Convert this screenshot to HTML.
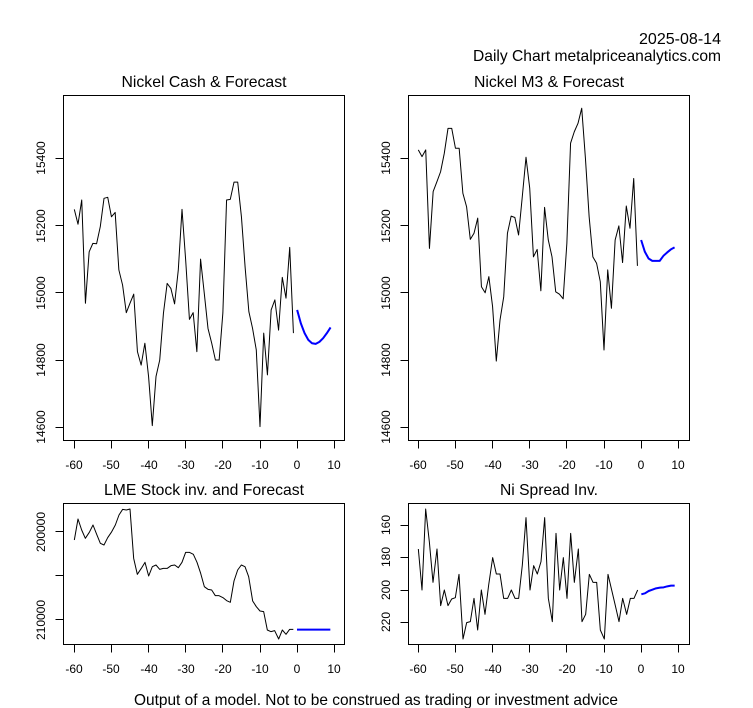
<!DOCTYPE html>
<html><head><meta charset="utf-8"><style>
html,body{margin:0;padding:0;background:#fff;}
svg{display:block;font-family:"Liberation Sans",Arial,sans-serif;}
.t{font-size:16px;fill:#000;}
.k{font-size:12px;fill:#000;}
.ln{fill:none;stroke:#000;stroke-width:1;vector-effect:non-scaling-stroke;stroke-linejoin:round;}
.bl{fill:none;stroke:#0000ff;stroke-width:2;vector-effect:non-scaling-stroke;stroke-linejoin:round;}
.ax{stroke:#000;stroke-width:1;fill:none;shape-rendering:crispEdges;}
</style></head><body>
<svg width="753" height="708" viewBox="0 0 753 708" xmlns="http://www.w3.org/2000/svg">
<rect width="753" height="708" fill="#fff"/>
<text class="t" x="721" y="44" text-anchor="end" textLength="82" lengthAdjust="spacingAndGlyphs">2025-08-14</text>
<text class="t" x="721" y="61" text-anchor="end" textLength="248" lengthAdjust="spacingAndGlyphs">Daily Chart metalpriceanalytics.com</text>
<text class="t" x="376" y="705" text-anchor="middle" textLength="484" lengthAdjust="spacingAndGlyphs">Output of a model. Not to be construed as trading or investment advice</text>

<!-- Top-left -->
<text class="t" x="204" y="87" text-anchor="middle" textLength="165" lengthAdjust="spacingAndGlyphs">Nickel Cash &amp; Forecast</text>
<rect class="ax" x="63.5" y="95.5" width="281" height="345"/>
<path class="ax" d="M74.5 440.5V448.5M111.5 440.5V448.5M148.5 440.5V448.5M185.5 440.5V448.5M222.5 440.5V448.5M260.5 440.5V448.5M297.5 440.5V448.5M334.5 440.5V448.5M74.5 440.5H334.5"/>
<g class="k" text-anchor="middle">
<text x="74" y="469">-60</text><text x="111" y="469">-50</text><text x="149" y="469">-40</text><text x="186" y="469">-30</text><text x="223" y="469">-20</text><text x="260" y="469">-10</text><text x="297" y="469">0</text><text x="334" y="469">10</text>
</g>
<path class="ax" d="M63.5 158.5H55.5M63.5 225.5H55.5M63.5 292.5H55.5M63.5 360.5H55.5M63.5 427.5H55.5M63.5 158.5V427.5"/>
<g class="k" text-anchor="middle">
<text transform="translate(45,158) rotate(-90)">15400</text>
<text transform="translate(45,226) rotate(-90)">15200</text>
<text transform="translate(45,293) rotate(-90)">15000</text>
<text transform="translate(45,360) rotate(-90)">14800</text>
<text transform="translate(45,427) rotate(-90)">14600</text>
</g>
<g transform="matrix(3.714,0,0,-0.33625,297.14,5336.55)">
<polyline class="ln" points="-60,15248 -59,15204 -58,15276 -57,14969 -56,15122 -55,15147 -54,15146 -53,15197 -52,15281 -51,15284 -50,15226 -49,15239 -48,15068 -47,15023 -46,14941 -45,14969 -44,14996 -43,14825 -42,14785 -41,14850 -40,14751 -39,14605 -38,14751 -37,14800 -36,14939 -35,15028 -34,15013 -33,14967 -32,15068 -31,15248 -30,15095 -29,14921 -28,14941 -27,14825 -26,15100 -25,14998 -24,14894 -23,14850 -22,14800 -21,14800 -20,14940 -19,15276 -18,15278 -17,15329 -16,15329 -15,15226 -14,15075 -13,14944 -12,14894 -11,14830 -10,14602 -9,14880 -8,14756 -7,14949 -6,14979 -5,14889 -4,15046 -3,14984 -2,15135 -1,14880"/>
<polyline class="bl" points="0,14949 1,14909 2,14880 3,14860 4,14850 5,14848 6,14854 7,14865 8,14880 9,14897"/>
</g>

<!-- Top-right -->
<text class="t" x="549" y="87" text-anchor="middle" textLength="150" lengthAdjust="spacingAndGlyphs">Nickel M3 &amp; Forecast</text>
<rect class="ax" x="408.5" y="95.5" width="281" height="345"/>
<path class="ax" d="M418.5 440.5V448.5M455.5 440.5V448.5M492.5 440.5V448.5M529.5 440.5V448.5M566.5 440.5V448.5M604.5 440.5V448.5M641.5 440.5V448.5M678.5 440.5V448.5M418.5 440.5H678.5"/>
<g class="k" text-anchor="middle">
<text x="418" y="469">-60</text><text x="455" y="469">-50</text><text x="493" y="469">-40</text><text x="530" y="469">-30</text><text x="567" y="469">-20</text><text x="604" y="469">-10</text><text x="641" y="469">0</text><text x="678" y="469">10</text>
</g>
<path class="ax" d="M408.5 158.5H400.5M408.5 225.5H400.5M408.5 292.5H400.5M408.5 360.5H400.5M408.5 427.5H400.5M408.5 158.5V427.5"/>
<g class="k" text-anchor="middle">
<text transform="translate(390,158) rotate(-90)">15400</text>
<text transform="translate(390,226) rotate(-90)">15200</text>
<text transform="translate(390,293) rotate(-90)">15000</text>
<text transform="translate(390,360) rotate(-90)">14800</text>
<text transform="translate(390,427) rotate(-90)">14600</text>
</g>
<g transform="matrix(3.714,0,0,-0.33625,641.14,5336.55)">
<polyline class="ln" points="-60,15425 -59,15405 -58,15425 -57,15132 -56,15301 -55,15330 -54,15360 -53,15415 -52,15489 -51,15489 -50,15430 -49,15430 -48,15296 -47,15256 -46,15159 -45,15177 -44,15222 -43,15018 -42,15000 -41,15048 -40,14959 -39,14797 -38,14919 -37,14988 -36,15177 -35,15228 -34,15224 -33,15172 -32,15286 -31,15403 -30,15311 -29,15107 -28,15129 -27,15006 -26,15254 -25,15157 -24,15107 -23,15003 -22,14996 -21,14982 -20,15147 -19,15445 -18,15479 -17,15504 -16,15549 -15,15400 -14,15226 -13,15107 -12,15088 -11,15033 -10,14830 -9,15068 -8,14954 -7,15157 -6,15199 -5,15090 -4,15258 -3,15192 -2,15340 -1,15080"/>
<polyline class="bl" points="0,15157 1,15122 2,15102 3,15095 4,15095 5,15095 6,15110 7,15120 8,15129 9,15135"/>
</g>

<!-- Bottom-left -->
<text class="t" x="204" y="495" text-anchor="middle" textLength="200" lengthAdjust="spacingAndGlyphs">LME Stock inv. and Forecast</text>
<rect class="ax" x="63.5" y="503.5" width="281" height="141"/>
<path class="ax" d="M74.5 644.5V652.5M111.5 644.5V652.5M148.5 644.5V652.5M185.5 644.5V652.5M222.5 644.5V652.5M260.5 644.5V652.5M297.5 644.5V652.5M334.5 644.5V652.5M74.5 644.5H334.5"/>
<g class="k" text-anchor="middle">
<text x="74" y="673">-60</text><text x="111" y="673">-50</text><text x="149" y="673">-40</text><text x="186" y="673">-30</text><text x="223" y="673">-20</text><text x="260" y="673">-10</text><text x="297" y="673">0</text><text x="334" y="673">10</text>
</g>
<path class="ax" d="M63.5 531.5H55.5M63.5 575.5H55.5M63.5 619.5H55.5M63.5 531.5V619.5"/>
<g class="k" text-anchor="middle">
<text transform="translate(45,532) rotate(-90)">200000</text>
<text transform="translate(45,620) rotate(-90)">210000</text>
</g>
<g transform="translate(0,475) scale(0.333333)">
<polyline class="ln" points="223,195 234,132 245,165 256,190 268,172 279,150 290,178 301,205 312,210 323,188 334,172 346,150 357,120 368,103 379,105 390,102 401,250 412,298 424,280 435,262 446,303 457,275 468,270 479,283 490,280 502,280 513,272 524,270 535,278 546,262 557,232 568,232 580,238 591,262 602,295 613,335 624,343 635,345 646,362 657,362 669,368 680,377 691,382 702,318 713,285 724,270 735,275 746,305 758,378 769,395 780,408 791,410 802,465 813,470 824,467 836,492 847,465 858,478 869,463 880,463"/>
<polyline class="bl" points="891,464 991,464"/>
</g>

<!-- Bottom-right -->
<text class="t" x="549" y="495" text-anchor="middle" textLength="98" lengthAdjust="spacingAndGlyphs">Ni Spread Inv.</text>
<rect class="ax" x="408.5" y="503.5" width="281" height="141"/>
<path class="ax" d="M418.5 644.5V652.5M455.5 644.5V652.5M492.5 644.5V652.5M529.5 644.5V652.5M566.5 644.5V652.5M604.5 644.5V652.5M641.5 644.5V652.5M678.5 644.5V652.5M418.5 644.5H678.5"/>
<g class="k" text-anchor="middle">
<text x="418" y="673">-60</text><text x="455" y="673">-50</text><text x="493" y="673">-40</text><text x="530" y="673">-30</text><text x="567" y="673">-20</text><text x="604" y="673">-10</text><text x="641" y="673">0</text><text x="678" y="673">10</text>
</g>
<path class="ax" d="M408.5 525.5H400.5M408.5 557.5H400.5M408.5 590.5H400.5M408.5 622.5H400.5M408.5 525.5V622.5"/>
<g class="k" text-anchor="middle">
<text transform="translate(390,525) rotate(-90)">160</text>
<text transform="translate(390,557) rotate(-90)">180</text>
<text transform="translate(390,590) rotate(-90)">200</text>
<text transform="translate(390,622) rotate(-90)">220</text>
</g>
<g transform="translate(376,475) scale(0.333333)">
<polyline class="ln" points="127,222 138,345 149,102 160,200 171,322 183,222 194,392 205,345 216,392 227,372 238,368 249,298 261,492 272,443 283,440 294,370 305,465 316,345 327,418 338,330 350,248 361,297 372,297 383,370 395,370 406,345 417,370 428,370 439,270 450,128 462,345 473,272 484,297 495,260 506,128 517,370 529,440 540,175 551,345 562,248 573,370 584,175 595,322 607,222 618,440 629,418 640,298 651,322 662,322 673,465 685,492 696,298 707,345 718,392 729,440 740,370 752,418 763,370 774,370 785,345"/>
<polyline class="bl" points="796,358 807,355 818,348 829,344 840,340 852,338 863,337 874,334 885,332 896,332"/>
</g>
</svg>
</body></html>
